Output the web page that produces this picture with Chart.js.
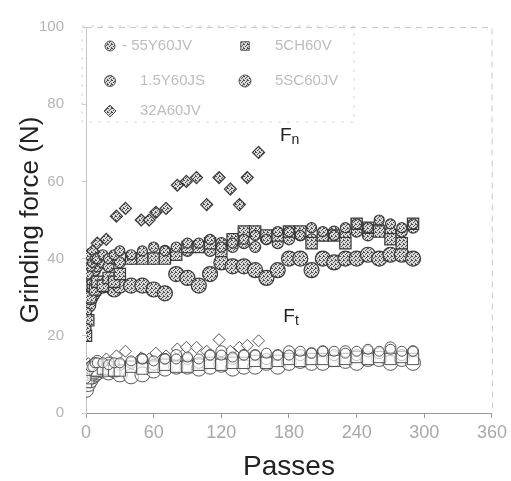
<!DOCTYPE html>
<html>
<head>
<meta charset="utf-8">
<script src="https://cdn.jsdelivr.net/npm/chart.js@4.4.1/dist/chart.umd.min.js"></script>
<style>
  body { margin: 0; background: #fff; }
  #wrap { width: 511px; height: 481px; }
</style>
</head>
<body>
<div id="wrap"><canvas id="forceChart" width="511" height="481"></canvas></div>
<script>
// wheel names as in legend
const wheelNames = ["55Y60JV", "5CH60V", "1.5Y60JS", "5SC60JV", "32A60JV"];

// shared pass counts for the four long series
const passes = [0, 2, 4, 6, 8, 10, 15, 20, 25, 30, 40, 50, 60, 70, 80, 90, 100, 110, 120,
    130, 140, 150, 160, 170, 180, 190, 200, 210, 220, 230, 240, 250, 260, 270, 280, 290];
// passes for the shorter 32A60JV series
const passesShort = [2, 6, 10, 18, 27, 35, 49, 56, 62, 71, 81, 89, 98, 107, 118, 128, 136, 143, 153];

// normal force Fn (N)
const fn55Y = [22, 36, 38, 39, 40, 40, 41, 40, 41, 42, 41, 42, 43, 42, 43, 44, 44, 45, 43,
    44, 45, 46, 45, 47, 47, 46, 48, 47, 46, 48, 49, 48, 50, 49, 48, 49];
const fn5CH = [20, 24, 30, 33, 32, 34, 33, 35, 34, 36, 40, 40, 40, 40, 41, 43, 43, 44, 42,
    45, 47, 47, 46, 46, 47, 47, 44, 46, 46, 44, 49, 48, 47, 45, 44, 49];
const fn15Y = [26, 33, 35, 36, 37, 38, 39, 38, 40, 39, 40, 41, 40, 42, 41, 42, 43, 42, 44,
    43, 44, 43, 45, 44, 45, 46, 45, 46, 47, 46, 47, 46, 48, 47, 47, 48];
const fn5SC = [24, 28, 30, 31, 32, 33, 33, 34, 32, 33, 33, 33, 32, 31, 36, 35, 33, 36, 39,
    38, 38, 37, 35, 37, 40, 40, 37, 40, 39, 40, 40, 41, 40, 41, 41, 40];
const fn32A = [41, 42, 44, 45, 51, 53, 50, 50, 52, 53, 59, 60, 61, 54, 61, 58, 54, 61, 67.5];

// tangential force Ft (N)
const ft55Y = [9, 11, 12, 12, 13, 13, 13, 12.5, 13, 13, 13.5, 14, 13.5, 14, 14, 14.5, 14, 15, 15,
    14.5, 15, 15, 15.5, 15, 15, 16, 15.5, 16, 16, 15.5, 16, 16.5, 16, 16.5, 16, 16];
const ft5CH = [8, 9, 10, 10.5, 11, 11, 11.5, 11, 11, 11, 12, 11.5, 12, 12.5, 12, 12, 12.5, 13, 12.5,
    13, 13, 13.5, 13, 13.5, 14, 13.5, 14, 14, 13.5, 14, 14.5, 14, 14.5, 14, 14.5, 14];
const ft15Y = [10, 11.5, 12, 12.5, 13, 13.5, 12.5, 13, 12, 12.5, 13, 14, 12.5, 14, 15, 14, 13, 15, 16,
    14, 15, 15, 14, 15, 16, 15, 15.5, 16, 15, 16, 15, 16, 15.5, 17, 15, 16];
const ft5SC = [6, 7.5, 8.5, 9.5, 10, 10.5, 11, 10.5, 11, 10, 9.5, 10, 11, 11.5, 12, 12, 11.5, 12, 12.5,
    11.5, 12, 12, 13, 12, 13, 13.5, 13, 13, 14, 13.5, 13, 14, 14, 13, 14, 13];
const ft32A = [12.8, 11.8, 13, 14, 14.8, 16, 14.3, 14, 15.5, 14.8, 16.6, 17, 17, 16, 19, 16, 17, 17.5, 18.7];

const xTicks = [0, 60, 120, 180, 240, 300, 360];
const yTicks = [0, 20, 40, 60, 80, 100];

// stippled fill like the scanned markers
function make_stipple() {
    const c = document.createElement('canvas');
    c.width = 4; c.height = 4;
    const g = c.getContext('2d');
    g.fillStyle = '#dcdcdc';
    g.fillRect(0, 0, 4, 4);
    g.fillStyle = '#4a4a4a';
    [[0, 0], [2, 1], [1, 2], [3, 3], [3, 0]].forEach(p => g.fillRect(p[0], p[1], 1, 1));
    return document.getElementById('forceChart').getContext('2d').createPattern(c, 'repeat');
}
const stipple = make_stipple();

function to_points(xs, ys) {
    return ys.map((y, i) => ({ x: xs[i], y: y }));
}

const markerStyles = [
    { pointStyle: 'circle', radius: 5 },
    { pointStyle: 'rect', radius: 8 },
    { pointStyle: 'circle', radius: 5.5 },
    { pointStyle: 'circle', radius: 7.5 },
    { pointStyle: 'rectRot', radius: 6 }
];

function make_set(idx, xs, ys, filled) {
    const m = markerStyles[idx];
    return {
        label: wheelNames[idx],
        data: to_points(xs, ys),
        pointStyle: m.pointStyle,
        pointRadius: m.radius,
        pointBackgroundColor: filled ? stipple : 'rgba(255,255,255,0.6)',
        pointBorderColor: filled ? '#3a3a3a' : '#444',
        pointBorderWidth: filled ? 1.2 : 0.9,
        showLine: false
    };
}

const datasets = [
    make_set(0, passes, fn55Y, true),
    make_set(1, passes, fn5CH, true),
    make_set(2, passes, fn15Y, true),
    make_set(3, passes, fn5SC, true),
    make_set(4, passesShort, fn32A, true),
    make_set(0, passes, ft55Y, false),
    make_set(1, passes, ft5CH, false),
    make_set(2, passes, ft15Y, false),
    make_set(3, passes, ft5SC, false),
    make_set(4, passesShort, ft32A, false)
];

// frame, in-plot legend and the Fn / Ft labels
const annotatePlugin = {
    id: 'annotate',
    beforeDatasetsDraw(chart) {
        const { ctx, chartArea: a } = chart;
        ctx.save();
        ctx.strokeStyle = '#c8c8c8';
        ctx.lineWidth = 1;
        ctx.setLineDash([6, 5]);
        ctx.beginPath();
        ctx.moveTo(a.left, a.top + 0.5);
        ctx.lineTo(a.right, a.top + 0.5);
        ctx.lineTo(a.right + 0.5, a.bottom);
        ctx.stroke();
        // legend box
        ctx.strokeStyle = '#d8d8d8';
        ctx.setLineDash([3, 6]);
        ctx.strokeRect(a.left - 4, a.top - 1, 272, 96);
        ctx.restore();
    },
    afterDatasetsDraw(chart) {
        const { ctx, chartArea: a, scales } = chart;
        ctx.save();
        // legend entries
        const cols = [a.left + 24, a.left + 159];
        const rows = [a.top + 19, a.top + 54, a.top + 84];
        for (let i = 0; i < 5; i++) {
            const px = cols[i % 2];
            const py = rows[Math.floor(i / 2)];
            const m = markerStyles[i];
            ctx.fillStyle = stipple;
            ctx.strokeStyle = '#555';
            ctx.lineWidth = 1;
            Chart.helpers.drawPoint(ctx, { pointStyle: m.pointStyle, radius: Math.min(m.radius, 6), rotation: 0, borderWidth: 1 }, px, py);
            ctx.font = '15px "Liberation Sans", Arial, sans-serif';
            ctx.fillStyle = '#bdbdbd';
            ctx.textBaseline = 'middle';
            ctx.textAlign = 'left';
            ctx.fillText((i === 0 ? '- ' : '') + wheelNames[i], px + (i === 0 ? 12 : 30), py);
        }
        // force labels
        const lab = (txt, sub, vx, vy) => {
            const x = scales.x.getPixelForValue(vx);
            const y = scales.y.getPixelForValue(vy);
            ctx.fillStyle = '#222';
            ctx.textBaseline = 'alphabetic';
            ctx.font = '19px "Liberation Sans", Arial, sans-serif';
            ctx.fillText(txt, x, y);
            const w = ctx.measureText(txt).width;
            ctx.font = '14px "Liberation Sans", Arial, sans-serif';
            ctx.fillText(sub, x + w, y + 3);
        };
        lab('F', 'n', 172, 70.5);
        lab('F', 't', 175, 23.5);
        ctx.restore();
    }
};

new Chart('forceChart', {
    type: 'scatter',
    data: { datasets: datasets },
    options: {
        responsive: false,
        animation: false,
        layout: { padding: { top: 16, right: 19, left: 0, bottom: 0 } },
        plugins: {
            legend: { display: false },
            tooltip: { enabled: false }
        },
        scales: {
            x: {
                min: 0,
                max: 360,
                afterBuildTicks: s => { s.ticks = xTicks.map(v => ({ value: v })); },
                afterFit: s => { s.height = 68; },
                ticks: {
                    color: '#a8a8a8',
                    font: { size: 18, family: '"Liberation Sans", Arial, sans-serif' },
                    padding: 4,
                    maxRotation: 0
                },
                grid: { drawOnChartArea: false, tickLength: 5, color: '#999' },
                border: { color: '#9a9a9a', dash: [10, 6] },
                title: {
                    display: true,
                    text: 'Passes',
                    color: '#222',
                    font: { size: 28, family: '"Liberation Sans", Arial, sans-serif' },
                    padding: { top: 0, bottom: -3 }
                }
            },
            y: {
                min: 0,
                max: 100,
                afterBuildTicks: s => { s.ticks = yTicks.map(v => ({ value: v })); },
                afterFit: s => { s.width = 86; },
                ticks: {
                    color: '#b4b4b4',
                    font: { size: 15, family: '"Liberation Sans", Arial, sans-serif' },
                    padding: 18
                },
                grid: { drawOnChartArea: false, tickLength: 4, color: '#ccc' },
                border: { color: '#c4c4c4', dash: [2, 6] },
                title: {
                    display: true,
                    text: 'Grinding force (N)',
                    color: '#222',
                    font: { size: 26, family: '"Liberation Sans", Arial, sans-serif' },
                    padding: { top: 15, bottom: 0 }
                }
            }
        }
    },
    plugins: [annotatePlugin]
});
</script>
</body>
</html>
